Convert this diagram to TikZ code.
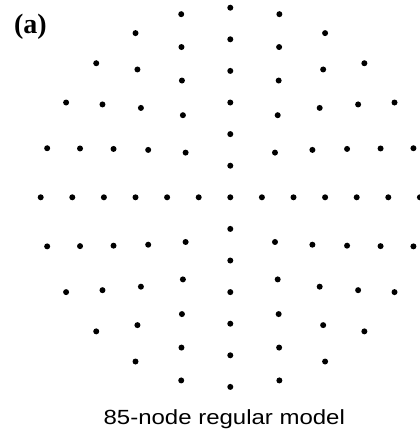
\documentclass[tikz,border=0pt]{standalone}
\usepackage{fontspec}
\setmainfont{Liberation Serif}
\newfontfamily\labelsans{Liberation Sans}
\begin{document}
\begin{tikzpicture}[x=1pt,y=-1pt,
  dotnode/.style={circle,fill=black,inner sep=0pt,minimum size=6pt},
  tagtext/.style={font=\fontsize{28}{30}\selectfont\bfseries,inner sep=0pt,anchor=base},
  captext/.style={font=\labelsans\fontsize{20.5}{23}\selectfont,inner sep=0pt,anchor=base}]
\useasboundingbox (0,0) rectangle (420,437);
\node[dotnode] (n0) at (230.3,197.3) {};
\foreach \k in {1,...,6}{
  \pgfmathtruncatemacro{\m}{4*\k}
  \pgfmathtruncatemacro{\mm}{\m-1}
  \foreach \j in {0,...,\mm}{
    \pgfmathsetmacro{\ang}{360*\j/\m}
    \pgfmathsetmacro{\px}{230.3+31.6*\k*cos(\ang)}
    \pgfmathsetmacro{\py}{197.3-31.6*\k*sin(\ang)}
    \node[dotnode] (n\k-\j) at (\px,\py) {};
  }
}
\node[tagtext] (tag) at (30.5,33) {(a)};
\node[captext] (cap) at (224.3,424) {\scalebox{1.17}[1]{85-node regular model}};
\end{tikzpicture}
\end{document}
